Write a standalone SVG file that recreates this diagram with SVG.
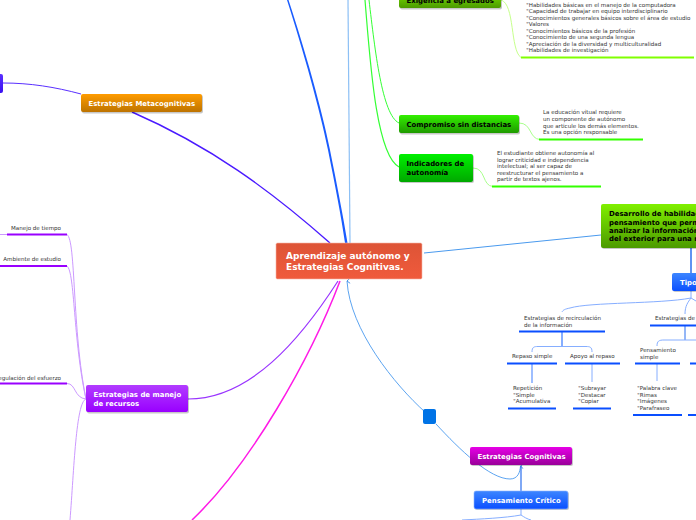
<svg xmlns="http://www.w3.org/2000/svg" width="696" height="520" viewBox="0 0 696 520">
<style>
text{font-family:"DejaVu Sans",Verdana,sans-serif}
.n{font-size:6.95px;font-weight:700;fill:#fff}
.k{font-size:6.95px;font-weight:700;fill:#000}
.s{font-size:5.55px;fill:#333}
.c{fill:none}
.sh{fill:#000;opacity:.22}
.bl{fill:none;stroke:#0a4fff;stroke-width:2}
.lb{fill:none;stroke:#86aeff}
.pu{fill:none;stroke:#cc99ff;stroke-width:1}
</style>
<defs>
<linearGradient id="gOr" x1="0" y1="0" x2="0" y2="1"><stop offset="0" stop-color="#ff9c00"/><stop offset="1" stop-color="#bd7300"/></linearGradient>
<linearGradient id="gPu" x1="0" y1="0" x2="0" y2="1"><stop offset="0" stop-color="#b23cff"/><stop offset="1" stop-color="#9900ff"/></linearGradient>
<linearGradient id="gMa" x1="0" y1="0" x2="0" y2="1"><stop offset="0" stop-color="#e600e6"/><stop offset="1" stop-color="#990099"/></linearGradient>
<linearGradient id="gBl" x1="0" y1="0" x2="0" y2="1"><stop offset="0" stop-color="#3d86ff"/><stop offset="1" stop-color="#0a4fff"/></linearGradient>
<linearGradient id="gVi" x1="0" y1="0" x2="0" y2="1"><stop offset="0" stop-color="#5a30ff"/><stop offset="1" stop-color="#3a10f0"/></linearGradient>
<linearGradient id="gLi" x1="0" y1="0" x2="0" y2="1"><stop offset="0" stop-color="#80f000"/><stop offset="1" stop-color="#4c9a00"/></linearGradient>
<linearGradient id="gGr" x1="0" y1="0" x2="0" y2="1"><stop offset="0" stop-color="#33f000"/><stop offset="1" stop-color="#1f9a00"/></linearGradient>
<linearGradient id="gEm" x1="0" y1="0" x2="0" y2="1"><stop offset="0" stop-color="#00f000"/><stop offset="1" stop-color="#00a800"/></linearGradient>
<linearGradient id="gRo" x1="0" y1="0" x2="0" y2="1"><stop offset="0" stop-color="#dd5436"/><stop offset="1" stop-color="#f05a3c"/></linearGradient>
<marker id="ah" markerWidth="6" markerHeight="6" refX="3" refY="1" orient="auto-start-reverse" markerUnits="userSpaceOnUse" viewBox="0 0 6 6"><path d="M0.5,4 L3,1 L5.5,4" fill="none" stroke="#3d8ee8" stroke-width="0.9"/></marker>
</defs>
<rect width="696" height="520" fill="#fff"/>
<g id="connectors">
<path d="M287,0 C303,50 320,110 328,150 C335,185 341,215 345,243 L347.500,243 C343,215 337,185 330,150 C322,110 305,50 288.500,0 Z" fill="#1a5cff"/>
<path d="M348,0 L350,243" class="c" stroke="#8cc0f5" stroke-width="1.2"/>
<path d="M365,0 C370,60 376,155 399,167" class="c" stroke="#33ff33" stroke-width="1.200"/>
<path d="M369,0 C375,50 382,115 399,123" class="c" stroke="#33ff33" stroke-width="1"/>
<path d="M501,0 C515,4 510,50 521,57.500" class="c" stroke="#c6ff8c"/>
<path d="M519,123 C532,123 529,139 540,139.500" class="c" stroke="#a8ff8c"/>
<path d="M473,168 C486,168 482,186 493,186.500" class="c" stroke="#a8ff8c"/>
<path d="M132,112 C210,146 270,190 330,243" class="c" stroke="#4a1aff" stroke-width="1.400"/>
<path d="M3,83 C30,83 55,87 81,94" class="c" stroke="#5a30ff" stroke-width="1"/>
<path d="M188,399 C250,399 300,340 338,281" class="c" stroke="#9933ff" stroke-width="1.200"/>
<path d="M192,520 C250,465 310,360 340,281" class="c" stroke="#ff1ae6" stroke-width="1.500"/>
<path d="M67,234.500 C76,240 72,330 86,399" class="pu"/>
<path d="M67,266 C75,272 73,340 86,399" class="pu"/>
<path d="M67,383.500 C76,383.500 74,398 86,399" class="pu"/>
<path d="M86,399 C76,402 74,470 70,520" class="pu"/>
<path d="M0,234.500 L7,234.500" class="pu"/>
<path d="M424,253 L601,235" class="c" stroke="#4a9aee" stroke-width="1"/>
<path d="M691,248 L691,273" class="c" stroke="#2a6fee" stroke-width="1.500"/>
<path d="M691,291 L691,298 C660,304 590,302 570,308 C565,309 563,310 562,312" class="lb"/>
<path d="M691,298 C688,302 685,306 685,314" class="lb"/>
<path d="M691,298 L696,301" class="lb"/>
<path d="M562,332 L562,346" class="lb" stroke-width="2"/>
<path d="M532,352 C532,347 534,346.500 538,346.500 L586,346.500 C590,346.500 592,347 592,352" class="lb"/>
<path d="M532,364 L532,383" class="lb" stroke-width="1.600"/>
<path d="M592,364 L592,382" class="lb"/>
<path d="M685,326 L685,340" class="c" stroke="#2a6fee" stroke-width="1"/>
<path d="M657,346 C657,341 659,340 664,340 L696,340" class="lb"/>
<path d="M657,364 L657,381" class="lb"/>
<path d="M347,281 C350,330 395,385 425,412" class="c" stroke="#4a9aee" stroke-width="0.900" marker-start="url(#ah)"/>
<path d="M436,424 C460,450 490,479 510,479 C518,479 520,472 520.500,466" class="c" stroke="#4a9aee" stroke-width="0.900" marker-end="url(#ah)"/>
<path d="M521,491 L521,466" class="c" stroke="#2a6fee" stroke-width="1.200"/>
<path d="M521,509 L521,515 C505,518 480,519 462,520" class="lb"/>
<path d="M521,515 C524,517 527,519 531,520" class="lb"/>
</g>
<g id="root"><rect x="276" y="243" width="146" height="36" rx="1.500" fill="url(#gRo)" stroke="#f6b7a8" stroke-width=".6"/><text x="286" y="259" font-size="9" font-weight="700" fill="#fff">Aprendizaje autónomo y</text><text x="286" y="270" font-size="9" font-weight="700" fill="#fff">Estrategias Cognitivas.</text></g>
<g id="exigencia"><rect class="sh" x="400" y="-10" width="102" height="19.500" rx="2"/><rect x="399" y="-11" width="102" height="19" rx="2" fill="url(#gLi)"/><text class="k" x="406.500" y="3">Exigencia a egresados</text></g>
<g id="exigencia-texto"><text class="s"><tspan x="526" y="7">°Habilidades básicas en el manejo de la computadora</tspan><tspan x="526" y="13">°Capacidad de trabajar en equipo interdisciplinario</tspan><tspan x="526" y="20">°Conocimientos generales básicos sobre el área de estudio</tspan><tspan x="526" y="26">°Valores</tspan><tspan x="526" y="33">°Conocimientos básicos de la profesión</tspan><tspan x="526" y="39">°Conocimiento de una segunda lengua</tspan><tspan x="526" y="46">°Apreciación de la diversidad y multiculturalidad</tspan><tspan x="526" y="52">°Habilidades de investigación</tspan></text><path d="M521,57.500 H694" stroke="#80ff00" stroke-width="2"/></g>
<g id="compromiso"><rect class="sh" x="400" y="116" width="120" height="18.500" rx="2"/><rect x="399" y="115" width="120" height="18" rx="2" fill="url(#gGr)"/><text class="k" x="406.500" y="126.500">Compromiso sin distancias</text></g>
<g id="compromiso-texto"><text class="s"><tspan x="543" y="114">La educación vitual requiere</tspan><tspan x="543" y="121">un componente de autónomo</tspan><tspan x="543" y="127.500">que articule los demás elementos.</tspan><tspan x="543" y="134">Es una opción responsable</tspan></text><path d="M539,139.500 H643" stroke="#33ff00" stroke-width="2"/></g>
<g id="indicadores"><rect class="sh" x="400" y="155" width="74" height="28" rx="2"/><rect x="399" y="154" width="74" height="28" rx="2" fill="url(#gEm)"/><text class="k" x="406.500" y="166">Indicadores de</text><text class="k" x="406.500" y="175">autonomía</text></g>
<g id="indicadores-texto"><text class="s"><tspan x="497" y="155">El estudiante obtiene autonomía al</tspan><tspan x="497" y="162">lograr criticidad e independencia</tspan><tspan x="497" y="168">intelectual; al ser capaz de</tspan><tspan x="497" y="175">reestructurar el pensamiento a</tspan><tspan x="497" y="181">partir de textos ajenos.</tspan></text><path d="M492,186.500 H601" stroke="#33ff00" stroke-width="2"/></g>
<g id="desarrollo"><rect class="sh" x="602" y="205" width="100" height="44" rx="2"/><rect x="601" y="204" width="100" height="44" rx="2" fill="url(#gLi)"/><text class="k" x="609" y="216">Desarrollo de habilidad</text><text class="k" x="609" y="224.500">pensamiento que perm</text><text class="k" x="609" y="233">analizar la información</text><text class="k" x="609" y="241">del exterior para una r</text></g>
<g id="tipo"><rect class="sh" x="673" y="274" width="30" height="18" rx="2"/><rect x="672" y="273" width="30" height="18" rx="2" fill="url(#gBl)"/><text class="n" x="680" y="285">Tipo</text></g>
<g id="recirculacion"><text class="s"><tspan x="524" y="320">Estrategias de recirculación</tspan><tspan x="524" y="326.500">de la información</tspan></text><path d="M519,331.500 H605" class="bl"/></g>
<g id="elaboracion"><text class="s" x="655" y="320">Estrategias de</text><path d="M650,325.500 H696" class="bl"/></g>
<g id="repaso"><text class="s" x="512" y="358">Repaso simple</text><path d="M507,363.500 H557" class="bl"/></g>
<g id="apoyo"><text class="s" x="570" y="358">Apoyo al repaso</text><path d="M565,363.500 H620" class="bl"/></g>
<g id="pensamiento-simple"><text class="s"><tspan x="640" y="352">Pensamiento</tspan><tspan x="640" y="358.500">simple</tspan></text><path d="M635,363.500 H680 M690,363.500 H696" class="bl"/></g>
<g id="repeticion"><text class="s"><tspan x="513" y="390">Repetición</tspan><tspan x="513" y="397">°Simple</tspan><tspan x="513" y="403">°Acumulativa</tspan></text><path d="M508,408.500 H556" class="bl"/></g>
<g id="subrayar"><text class="s"><tspan x="578" y="390">°Subrayar</tspan><tspan x="578" y="397">°Destacar</tspan><tspan x="578" y="403">°Copiar</tspan></text><path d="M573,408.500 H611" class="bl"/></g>
<g id="palabra"><text class="s"><tspan x="637" y="390">°Palabra clave</tspan><tspan x="637" y="397">°Rimas</tspan><tspan x="637" y="403">°Imágenes</tspan><tspan x="637" y="410">°Parafraseo</tspan></text><path d="M633,415 H682 M688,415 H696" class="bl"/></g>
<g id="metacognitivas"><rect class="sh" x="82" y="95" width="121" height="18.500" rx="2"/><rect x="81" y="94" width="121" height="18" rx="2" fill="url(#gOr)"/><text class="n" x="88.500" y="106">Estrategias Metacognitivas</text></g>
<g id="nodo-izquierda"><rect x="-8" y="74" width="11" height="19" rx="2" fill="url(#gVi)"/></g>
<g id="manejo-recursos"><rect class="sh" x="87" y="386" width="102" height="27.500" rx="2"/><rect x="86" y="385" width="102" height="27" rx="2" fill="url(#gPu)"/><text class="n" x="93.500" y="397">Estrategias de manejo</text><text class="n" x="93.500" y="406">de recursos</text></g>
<g id="tiempo"><text class="s" x="61" y="230" text-anchor="end">Manejo de tiempo</text><path d="M7,234.500 H67" stroke="#9900ff" stroke-width="2"/></g>
<g id="ambiente"><text class="s" x="61" y="261" text-anchor="end">Ambiente de estudio</text><path d="M0,266 H67" stroke="#9900ff" stroke-width="2"/></g>
<g id="regulacion"><text class="s" x="61" y="379.500" text-anchor="end">regulación del esfuerzo</text><path d="M0,383.500 H67" stroke="#9900ff" stroke-width="2"/></g>
<g id="enlace"><rect x="423" y="409" width="13" height="15" rx="2" fill="#0073e6"/></g>
<g id="cognitivas"><rect class="sh" x="471" y="448" width="102" height="18" rx="2"/><rect x="470" y="447" width="102" height="18" rx="2" fill="url(#gMa)"/><text class="n" x="477.500" y="459">Estrategias Cognitivas</text></g>
<g id="critico"><rect class="sh" x="475" y="492" width="94" height="18" rx="2"/><rect x="474" y="491" width="94" height="18" rx="2" fill="url(#gBl)" stroke="#8cb4ff" stroke-width=".6"/><text class="n" x="482" y="502.500">Pensamiento Crítico</text></g>
</svg>
